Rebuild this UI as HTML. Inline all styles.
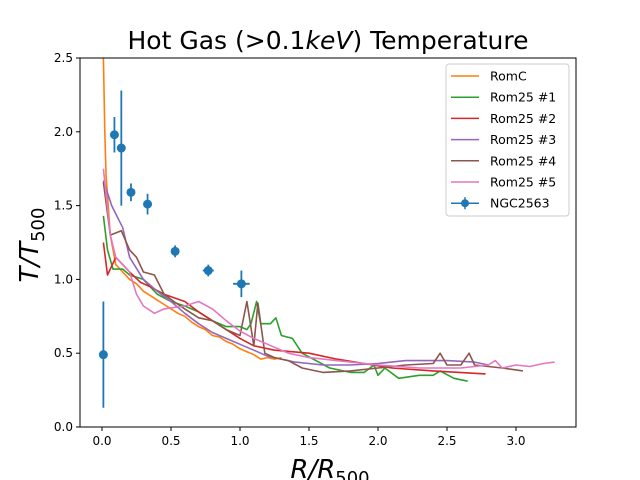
<!DOCTYPE html>
<html><head><meta charset="utf-8"><style>
body{margin:0;background:#fff}
svg{display:block;font-family:"DejaVu Sans","Liberation Sans",sans-serif}
</style></head><body>
<svg id="chart" width="640" height="480">
<rect x="0" y="0" width="640" height="480" fill="#fff"/>
<g id="marks"></g>
<g id="axes"></g>
<text x="328" y="49" text-anchor="middle" font-size="25">Hot Gas (&gt;0.1<tspan font-style="italic">keV</tspan>) Temperature</text>
<text x="330" y="478" text-anchor="middle" font-size="26" font-style="italic">R/R<tspan font-size="18" dy="6" font-style="normal">500</tspan></text>
<text transform="translate(38,245) rotate(-90)" text-anchor="middle" font-size="26" font-style="italic">T/T<tspan font-size="18" dy="6" font-style="normal">500</tspan></text>
<g id="legend"></g>
</svg>
<script>
const seriesNames=["RomC","Rom25 #1","Rom25 #2","Rom25 #3","Rom25 #4","Rom25 #5"];
const seriesColors=["#ff7f0e","#2ca02c","#d62728","#9467bd","#8c564b","#e377c2"];
const romcX=[0.01,0.02,0.03,0.06,0.1,0.15,0.2,0.25,0.3,0.35,0.4,0.45,0.5,0.55,0.6,0.65,0.7,0.75,0.8,0.85,0.9,0.95,1.0,1.05,1.1,1.15,1.2,1.25,1.3];
const romcY=[2.5,2.0,1.7,1.3,1.1,1.05,1.0,0.97,0.92,0.89,0.86,0.83,0.8,0.77,0.75,0.71,0.68,0.66,0.62,0.61,0.58,0.56,0.53,0.51,0.49,0.46,0.47,0.46,0.47];
const rom1X=[0.01,0.04,0.08,0.15,0.2,0.3,0.4,0.5,0.6,0.7,0.8,0.9,1.0,1.05,1.08,1.12,1.15,1.22,1.26,1.3,1.38,1.45,1.55,1.65,1.8,1.9,1.97,2.0,2.05,2.15,2.3,2.4,2.45,2.55,2.65];
const rom1Y=[1.43,1.2,1.07,1.07,1.03,1.0,0.9,0.85,0.82,0.78,0.72,0.68,0.68,0.66,0.7,0.85,0.7,0.7,0.74,0.62,0.6,0.5,0.45,0.4,0.37,0.37,0.42,0.35,0.4,0.33,0.35,0.35,0.38,0.33,0.31];
const rom2X=[0.01,0.04,0.1,0.15,0.2,0.28,0.35,0.45,0.6,0.7,0.8,0.9,1.0,1.1,1.25,1.5,1.7,1.9,2.1,2.4,2.78];
const rom2Y=[1.25,1.03,1.15,1.1,1.05,0.98,0.95,0.9,0.85,0.78,0.72,0.66,0.6,0.55,0.52,0.5,0.46,0.43,0.4,0.38,0.36];
const rom3X=[0.01,0.07,0.15,0.2,0.3,0.4,0.5,0.6,0.7,0.8,0.9,1.0,1.1,1.2,1.4,1.6,1.8,2.0,2.2,2.5,2.7,2.8];
const rom3Y=[1.67,1.5,1.35,1.15,1.0,0.92,0.85,0.77,0.7,0.64,0.6,0.56,0.52,0.48,0.44,0.42,0.42,0.43,0.45,0.45,0.44,0.42];
const rom4X=[0.01,0.06,0.14,0.2,0.25,0.3,0.38,0.45,0.52,0.6,0.7,0.8,0.9,1.0,1.05,1.1,1.13,1.18,1.25,1.35,1.45,1.6,1.8,2.0,2.2,2.4,2.45,2.5,2.6,2.66,2.7,2.9,3.05];
const rom4Y=[1.66,1.3,1.33,1.2,1.15,1.05,1.03,0.9,0.85,0.8,0.74,0.72,0.66,0.62,0.85,0.55,0.84,0.5,0.47,0.45,0.4,0.37,0.38,0.4,0.42,0.43,0.5,0.42,0.42,0.5,0.42,0.4,0.38];
const rom5X=[0.01,0.06,0.1,0.2,0.25,0.3,0.38,0.45,0.6,0.7,0.8,0.9,1.0,1.1,1.2,1.35,1.5,1.7,2.0,2.3,2.6,2.8,2.85,2.9,3.0,3.1,3.2,3.28];
const rom5Y=[1.75,1.3,1.15,1.05,0.9,0.82,0.77,0.8,0.82,0.85,0.8,0.72,0.65,0.6,0.56,0.5,0.47,0.45,0.42,0.4,0.4,0.42,0.45,0.4,0.42,0.41,0.43,0.44];
const seriesX=[romcX,rom1X,rom2X,rom3X,rom4X,rom5X];
const seriesY=[romcY,rom1Y,rom2Y,rom3Y,rom4Y,rom5Y];
const obsX=[0.01,0.09,0.14,0.21,0.33,0.53,0.77,1.01];
const obsY=[0.49,1.98,1.89,1.59,1.51,1.19,1.06,0.97];
const obsYErr=[0.36,0.12,0.39,0.06,0.07,0.04,0.04,0.09];
const obsXErr=[0,0,0,0,0,0,0.04,0.06];
const xTicks=[0,0.5,1,1.5,2,2.5,3];
const xTickLabels=["0.0","0.5","1.0","1.5","2.0","2.5","3.0"];
const yTicks=[0,0.5,1,1.5,2,2.5];
const yTickLabels=["0.0","0.5","1.0","1.5","2.0","2.5"];

const L=80,R=576,T=58,B=427;
const sx=v=>102+v*138;
const sy=v=>427-v*147.6;
const NS="http://www.w3.org/2000/svg";
function mk(tag,attrs,parent){const e=document.createElementNS(NS,tag);for(const k in attrs)e.setAttribute(k,attrs[k]);parent.appendChild(e);return e;}
const marks=document.getElementById('marks');
const axes=document.getElementById('axes');
const legend=document.getElementById('legend');

for(let s=0;s<seriesY.length;s++){
  const pts=seriesX[s].map((x,i)=>sx(x).toFixed(1)+','+sy(seriesY[s][i]).toFixed(1)).join(' ');
  const pl=mk('polyline',{points:pts,fill:'none',stroke:seriesColors[s],'stroke-width':1.6,'stroke-linejoin':'round'},marks);
  
  
}
for(let i=0;i<obsX.length;i++){
  const g=mk('g',{},marks);
  
  
  const cx=sx(obsX[i]),cy=sy(obsY[i]);
  mk('line',{x1:cx,x2:cx,y1:sy(obsY[i]-obsYErr[i]),y2:sy(obsY[i]+obsYErr[i]),stroke:'#1f77b4','stroke-width':1.8},g);
  if(obsXErr[i]>0)mk('line',{x1:sx(obsX[i]-obsXErr[i]),x2:sx(obsX[i]+obsXErr[i]),y1:cy,y2:cy,stroke:'#1f77b4','stroke-width':1.8},g);
  mk('circle',{cx:cx,cy:cy,r:4.5,fill:'#1f77b4'},g);
}
const frame=mk('rect',{x:L,y:T,width:R-L,height:B-T,fill:'none',stroke:'#000','stroke-width':1},axes);


xTicks.forEach((v,i)=>{
  const x=sx(v);
  mk('line',{x1:x,x2:x,y1:B,y2:B+4,stroke:'#000'},axes);
  const t=mk('text',{x:x,y:B+18,'text-anchor':'middle','font-size':12},axes);
  t.textContent=xTickLabels[i];
  
  
});
yTicks.forEach((v,i)=>{
  const y=sy(v);
  mk('line',{x1:L-4,x2:L,y1:y,y2:y,stroke:'#000'},axes);
  const t=mk('text',{x:L-7,y:y+4,'text-anchor':'end','font-size':12},axes);
  t.textContent=yTickLabels[i];
  
  
});
mk('rect',{x:446,y:64,width:123,height:152,rx:3,fill:'#fff',stroke:'#ccc','fill-opacity':0.8},legend);
const entries=seriesNames.concat(["NGC2563"]);
entries.forEach((n,i)=>{
  const y=76+i*21.2;
  const g=mk('g',{},legend);
  
  
  if(i<6){mk('line',{x1:451,x2:479,y1:y,y2:y,stroke:seriesColors[i],'stroke-width':1.5},g);}
  else{mk('line',{x1:451,x2:479,y1:y,y2:y,stroke:'#1f77b4','stroke-width':1.5},g);mk('line',{x1:465,x2:465,y1:y-6,y2:y+6,stroke:'#1f77b4','stroke-width':1.5},g);mk('circle',{cx:465,cy:y,r:4,fill:'#1f77b4'},g);}
  const t=mk('text',{x:490,y:y+4.5,'font-size':12.5},g);
  t.textContent=n;
});
</script>
</body></html>
